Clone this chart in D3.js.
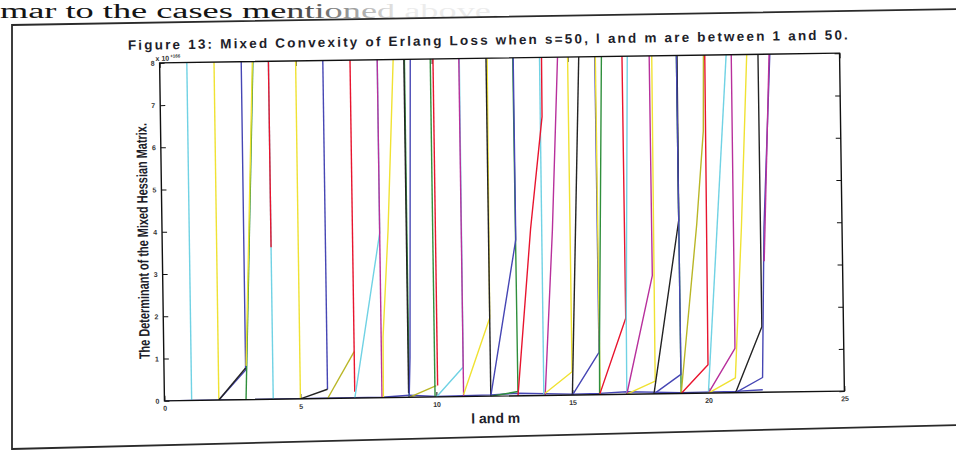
<!DOCTYPE html>
<html><head><meta charset="utf-8">
<script src="https://cdn.jsdelivr.net/npm/d3@7"></script>
<style>html,body{margin:0;padding:0;background:#fff}svg{display:block}</style>
</head><body>
<svg id="c" width="956" height="450"></svg>
<script>
// ---- text ----
const pageText = "mar to the cases mentioned above.";
const titleText = "Figure 13: Mixed Convexity of Erlang Loss when s=50, l and m are between 1 and 50.";
const xLabel = "l and m";
const yLabel = "The Determinant of the Mixed Hessian Matrix.";
const yExponent = "+166";

// ---- axes ----
const xDomain = [0, 25];
const yDomain = [0, 8];
const xTicks = [0, 5, 10, 15, 20, 25];
const yTicks = [0, 1, 2, 3, 4, 5, 6, 7, 8];

// ---- series (x = l and m, y in units of 1e166), in drawing order ----
const seriesColor = ["b","c","y","b","k","g","y","c","r","y","b","k","o","r","c","m","y","g","k","b","o","g","r","c","m","y","k","g","b","c","r","m","y","k","b","y","g","r","c","m","y","g","k","b","o","r","c","m","y","k","b","m"];
const seriesPoints = [
  [[0,0],[1,0],[8,0.01],[9,0.05],[10,0.01],[12,0.03],[13,0.06],[15,0.02],[16,0.03],[17,0.06],[19,0.02],[21,0.03],[22,0.06]],
  [[1,0],[1,9]],
  [[2,0],[2,9]],
  [[2,0],[3,0.7],[3,9]],
  [[2,0],[3,0.75]],
  [[3,0],[3.44,8.2]],
  [[3.02,0.8],[3.42,8.2]],
  [[4,0],[4,9]],
  [[4,3.6],[4,9]],
  [[5,0],[5,9]],
  [[6,0.22],[6,9]],
  [[5,0],[6,0.22]],
  [[6,0],[7,1.1]],
  [[7,0.15],[7,9]],
  [[7,0],[8,3.9],[8,9]],
  [[8,0],[8,9]],
  [[8.05,0],[8.07,1.44],[8.31,3.97],[8.6,8.2]],
  [[9,0],[9,9]],
  [[8.98,0.1],[8.98,9]],
  [[9,0],[9.05,0.95],[9.22,8.2]],
  [[9,0],[10,0.27]],
  [[9.95,0],[9.95,9]],
  [[10.05,0.27],[10.05,9]],
  [[10,0],[11,0.7],[11.02,9]],
  [[11,0],[11,9]],
  [[11,0.05],[12,1.85],[12.05,9]],
  [[12,0],[12,9]],
  [[12,0],[13,0.1],[12.98,9]],
  [[12,0],[13,3.7],[13,9]],
  [[13.95,0],[13.97,9]],
  [[13,0],[13.55,3.95],[14.03,6.6],[14.05,9]],
  [[14,0],[14.35,3.9],[14.65,8.3]],
  [[14,0.05],[15,0.55],[15,9]],
  [[15,0],[15.42,8.2]],
  [[15,0],[16,1.0],[16,9]],
  [[16.02,0],[16.02,9]],
  [[16,0],[16.02,1.1],[16.25,8.2]],
  [[16,0],[17,1.8],[17,9]],
  [[17,0],[17.02,1.8],[17.2,8.2]],
  [[17,0],[18,2.8],[18,9]],
  [[17,0],[18.05,0.3],[18.1,9]],
  [[19,0],[19,9]],
  [[18,0],[19,4.1],[19.03,9]],
  [[18,0],[19,0.45],[19,9]],
  [[19,0],[19.66,4.0],[19.95,6.2],[20.02,9]],
  [[19,0],[20,0.67],[20.05,9]],
  [[20,0],[20.85,8.2]],
  [[20,0],[21,1.05],[21.02,9]],
  [[20,0],[21,0.35],[21.3,3.9],[21.6,8.2]],
  [[21,0],[22,1.55],[22,9]],
  [[21,0],[22,0.35],[22.13,3.9],[22.45,8.2]],
  [[22.12,3.1],[22.42,8.2]]
];
const colorCodes = ["b","g","r","c","m","y","k","o"];
const colorValues = ["#4646b4","#2f8f3c","#e8142e","#70d2e4","#b8309c","#f0e232","#232323","#b9b626"];

// ---- drawing ----
const svg = d3.select("#c");
const color = d3.scaleOrdinal(colorCodes, colorValues);

const defs = svg.append("defs");
const grad = defs.append("linearGradient").attr("id", "fade")
  .attr("gradientUnits", "userSpaceOnUse").attr("x1", 270).attr("x2", 400).attr("y1", 0).attr("y2", 0);
grad.append("stop").attr("offset", 0).attr("stop-color", "#151515");
grad.append("stop").attr("offset", 1).attr("stop-color", "#ececec");

svg.append("text").attr("x", 0).attr("y", 18)
  .attr("font-family", "'Liberation Serif','DejaVu Serif',serif").attr("font-size", 20)
  .attr("textLength", 500).attr("lengthAdjust", "spacingAndGlyphs")
  .attr("fill", "url(#fade)").text(pageText);

// scanned page frame
svg.append("path").attr("d", "M12,452 L12,25 L958,9").attr("fill", "none").attr("stroke", "#2a2a2a").attr("stroke-width", 1.8);
svg.append("path").attr("d", "M12,449 L958,425").attr("fill", "none").attr("stroke", "#2a2a2a").attr("stroke-width", 1.8);

const g = svg.append("g").attr("transform", "rotate(-0.82 502 227)");
const L = 162, R = 842, T = 58, B = 396;
const x = d3.scaleLinear().domain(xDomain).range([L, R]);
const y = d3.scaleLinear().domain(yDomain).range([B, T]);

defs.append("clipPath").attr("id", "plotclip").append("rect")
  .attr("x", L).attr("y", T).attr("width", R - L).attr("height", B - T);

g.append("text").attr("x", 490.5).attr("y", 44.5).attr("text-anchor", "middle")
  .attr("font-family", "'Liberation Sans',Arial,sans-serif").attr("font-weight", "bold").attr("font-size", 13.5)
  .attr("textLength", 720).attr("lengthAdjust", "spacing").attr("fill", "#1e1e2a").text(titleText);

const styleAxis = sel => {
  sel.select(".domain").remove();
  sel.selectAll(".tick line").attr("stroke", "#111").attr("stroke-width", 1);
  sel.selectAll(".tick text").attr("font-family", "'Liberation Sans',Arial,sans-serif")
    .attr("font-size", 7).attr("font-weight", "bold").attr("fill", "#333");
};
g.append("g").attr("transform", `translate(0,${B})`)
  .call(d3.axisBottom(x).tickValues(xTicks).tickSizeInner(-5).tickSizeOuter(0).tickPadding(5)).call(styleAxis);
g.append("g").attr("transform", `translate(0,${T})`)
  .call(d3.axisTop(x).tickValues(xTicks).tickSizeInner(-5).tickSizeOuter(0).tickFormat("")).call(styleAxis);
g.append("g").attr("transform", `translate(${L},0)`)
  .call(d3.axisLeft(y).tickValues(yTicks).tickSizeInner(-5).tickSizeOuter(0).tickPadding(5)).call(styleAxis);
g.append("g").attr("transform", `translate(${R},0)`)
  .call(d3.axisRight(y).tickValues(yTicks).tickSizeInner(-5).tickSizeOuter(0).tickFormat("")).call(styleAxis);

const line = d3.line().x(d => x(d[0])).y(d => y(d[1]));
g.append("g").attr("clip-path", "url(#plotclip)")
  .selectAll("path").data(seriesPoints).join("path")
  .attr("d", line).attr("fill", "none")
  .attr("stroke", (d, i) => color(seriesColor[i]))
  .attr("stroke-width", 1.4).attr("stroke-linejoin", "round");

g.append("rect").attr("x", L).attr("y", T).attr("width", R - L).attr("height", B - T)
  .attr("fill", "none").attr("stroke", "#111").attr("stroke-width", 1.4);

// exponent
const ex = g.append("text").attr("x", L - 4).attr("y", T - 2)
  .attr("font-family", "'Liberation Sans',Arial,sans-serif").attr("font-weight", "bold").attr("fill", "#333");
ex.append("tspan").attr("font-size", 7).text("x 10");
ex.append("tspan").attr("font-size", 4.5).attr("dy", -3.2).attr("dx", 1).text(yExponent);

g.append("text").attr("x", 493).attr("y", 423).attr("text-anchor", "middle")
  .attr("font-family", "'Liberation Sans',Arial,sans-serif").attr("font-weight", "bold").attr("font-size", 14)
  .attr("fill", "#1e1e2a").text(xLabel);

g.append("text").attr("transform", "translate(148,236) rotate(-90)").attr("text-anchor", "middle")
  .attr("font-family", "'Liberation Sans Narrow','Liberation Sans',Arial,sans-serif").attr("font-weight", "bold").attr("font-size", 15)
  .attr("textLength", 236).attr("lengthAdjust", "spacingAndGlyphs")
  .attr("fill", "#1e1e2a").text(yLabel);
</script>
</body></html>
